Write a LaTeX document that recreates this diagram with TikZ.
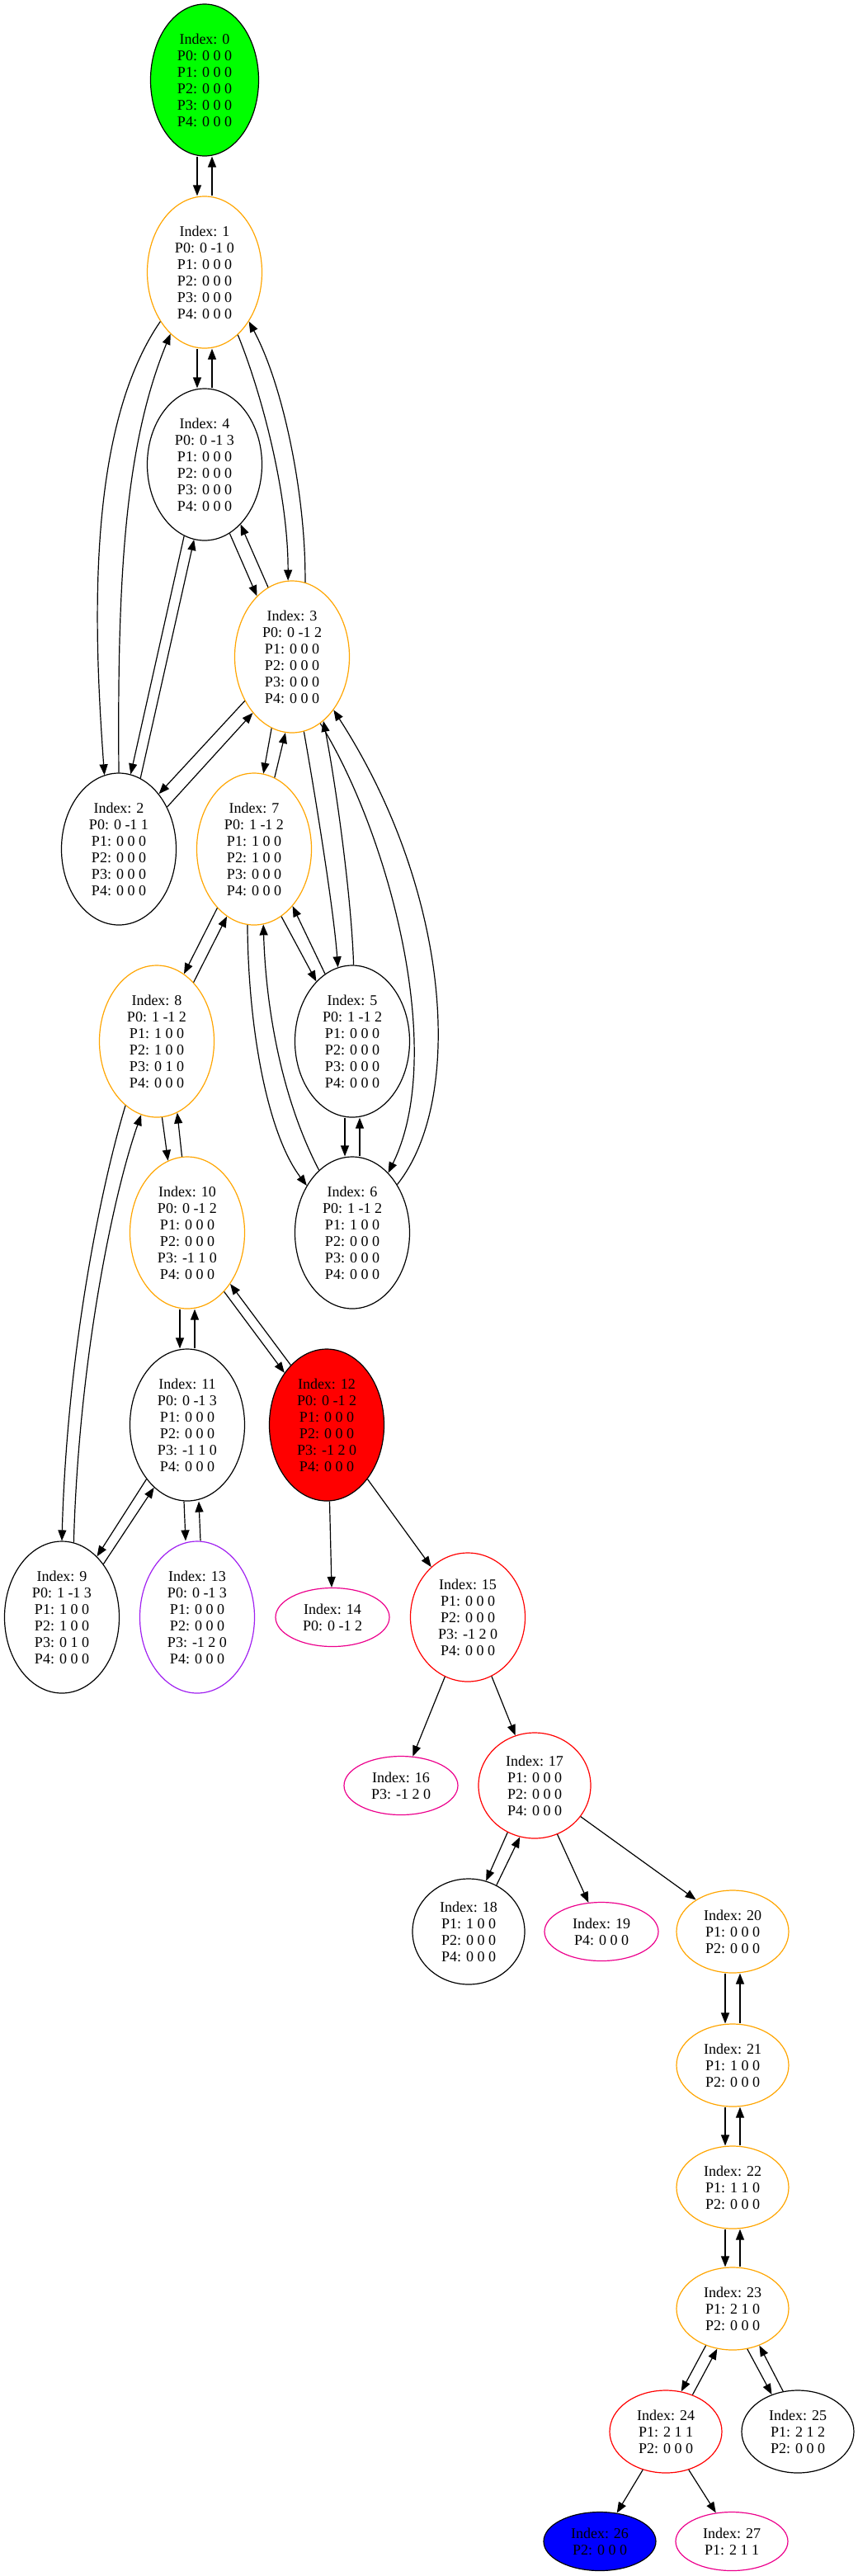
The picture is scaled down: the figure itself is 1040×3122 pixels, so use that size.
\documentclass[tikz,border=0pt]{standalone}
\usepackage{fontspec}
\setmainfont{Liberation Serif}
\usetikzlibrary{shapes.geometric,arrows.meta}
\definecolor{gvorange}{HTML}{FFA500}
\definecolor{gvpurple}{HTML}{A020F0}
\begin{document}
\begin{tikzpicture}[x=1pt,y=1pt,line width=1.2pt,>={Triangle[length=13pt,width=10pt]},
  st/.style={ellipse,draw,inner sep=0pt,align=center,font=\fontsize{18}{20}\selectfont},
  h6/.style={st,minimum width=139pt,minimum height=184pt},
  h5/.style={st,minimum width=139pt,minimum height=156pt},
  h4/.style={st,minimum width=136pt,minimum height=128pt},
  h3/.style={st,minimum width=136pt,minimum height=100pt},
  h2/.style={st,minimum width=138pt,minimum height=71pt}]
\useasboundingbox (0,0) rectangle (1040,-3122);
\node[h6,fill=green,minimum width=131pt] (s0) at (248,-97) {Index: 0\\P0: 0 0 0\\P1: 0 0 0\\P2: 0 0 0\\P3: 0 0 0\\P4: 0 0 0};
\node[h6,gvorange,text=black] (s1) at (248,-330) {Index: 1\\P0: 0 -1 0\\P1: 0 0 0\\P2: 0 0 0\\P3: 0 0 0\\P4: 0 0 0};
\node[h6] (s4) at (248,-563) {Index: 4\\P0: 0 -1 3\\P1: 0 0 0\\P2: 0 0 0\\P3: 0 0 0\\P4: 0 0 0};
\node[h6,gvorange,text=black] (s3) at (354,-796) {Index: 3\\P0: 0 -1 2\\P1: 0 0 0\\P2: 0 0 0\\P3: 0 0 0\\P4: 0 0 0};
\node[h6] (s2) at (144,-1029) {Index: 2\\P0: 0 -1 1\\P1: 0 0 0\\P2: 0 0 0\\P3: 0 0 0\\P4: 0 0 0};
\node[h6,gvorange,text=black] (s7) at (308,-1029) {Index: 7\\P0: 1 -1 2\\P1: 1 0 0\\P2: 1 0 0\\P3: 0 0 0\\P4: 0 0 0};
\node[h6,gvorange,text=black] (s8) at (190,-1262) {Index: 8\\P0: 1 -1 2\\P1: 1 0 0\\P2: 1 0 0\\P3: 0 1 0\\P4: 0 0 0};
\node[h6] (s5) at (427,-1262) {Index: 5\\P0: 1 -1 2\\P1: 0 0 0\\P2: 0 0 0\\P3: 0 0 0\\P4: 0 0 0};
\node[h6,gvorange,text=black] (s10) at (227,-1494) {Index: 10\\P0: 0 -1 2\\P1: 0 0 0\\P2: 0 0 0\\P3: -1 1 0\\P4: 0 0 0};
\node[h6] (s6) at (427,-1494) {Index: 6\\P0: 1 -1 2\\P1: 1 0 0\\P2: 0 0 0\\P3: 0 0 0\\P4: 0 0 0};
\node[h6] (s11) at (227,-1727) {Index: 11\\P0: 0 -1 3\\P1: 0 0 0\\P2: 0 0 0\\P3: -1 1 0\\P4: 0 0 0};
\node[h6,fill=red] (s12) at (396,-1727) {Index: 12\\P0: 0 -1 2\\P1: 0 0 0\\P2: 0 0 0\\P3: -1 2 0\\P4: 0 0 0};
\node[h6] (s9) at (75,-1960) {Index: 9\\P0: 1 -1 3\\P1: 1 0 0\\P2: 1 0 0\\P3: 0 1 0\\P4: 0 0 0};
\node[h6,gvpurple,text=black] (s13) at (239,-1960) {Index: 13\\P0: 0 -1 3\\P1: 0 0 0\\P2: 0 0 0\\P3: -1 2 0\\P4: 0 0 0};
\node[h2,magenta,text=black] (s14) at (403,-1960) {Index: 14\\P0: 0 -1 2};
\node[h5,red,text=black] (s15) at (567,-1960) {Index: 15\\P1: 0 0 0\\P2: 0 0 0\\P3: -1 2 0\\P4: 0 0 0};
\node[h2,magenta,text=black] (s16) at (486,-2164) {Index: 16\\P3: -1 2 0};
\node[h4,red,text=black] (s17) at (648,-2164) {Index: 17\\P1: 0 0 0\\P2: 0 0 0\\P4: 0 0 0};
\node[h4] (s18) at (568,-2341) {Index: 18\\P1: 1 0 0\\P2: 0 0 0\\P4: 0 0 0};
\node[h2,magenta,text=black] (s19) at (729,-2341) {Index: 19\\P4: 0 0 0};
\node[h3,gvorange,text=black] (s20) at (888,-2341) {Index: 20\\P1: 0 0 0\\P2: 0 0 0};
\node[h3,gvorange,text=black] (s21) at (888,-2503) {Index: 21\\P1: 1 0 0\\P2: 0 0 0};
\node[h3,gvorange,text=black] (s22) at (888,-2651) {Index: 22\\P1: 1 1 0\\P2: 0 0 0};
\node[h3,gvorange,text=black] (s23) at (888,-2798) {Index: 23\\P1: 2 1 0\\P2: 0 0 0};
\node[h3,red,text=black] (s24) at (807,-2947) {Index: 24\\P1: 2 1 1\\P2: 0 0 0};
\node[h3] (s25) at (967,-2947) {Index: 25\\P1: 2 1 2\\P2: 0 0 0};
\node[h2,fill=blue,minimum width=136pt] (s26) at (727,-3080) {Index: 26\\P2: 0 0 0};
\node[h2,magenta,text=black,minimum width=136pt] (s27) at (887,-3080) {Index: 27\\P1: 2 1 1};
\foreach \a/\b in {s0/s1,s1/s4,s5/s6,s10/s11,s20/s21,s21/s22,s22/s23} {
  \draw[->] ([xshift=-9pt]\a.south) -- ([xshift=-9pt]\b.north);
  \draw[->] ([xshift=9pt]\b.north) -- ([xshift=9pt]\a.south);
}
\foreach \a/\p/\b/\q in {s4/-70/s3/120.4, s3/109/s4/-59.8, s4/-106.6/s2/81.9, s2/73/s4/-98.7,
  s3/-137/s2/54.6, s2/41.9/s3/-125.5, s3/-106.8/s7/83.7, s7/74/s3/-95.6,
  s7/-122/s8/68.3, s8/58.9/s7/-112.5, s7/-68/s5/121.8, s5/112.3/s7/-56.7,
  s8/-86.3/s10/105.4, s10/94.4/s8/-74.6, s10/-58.4/s12/129.5, s12/121.3/s10/-50.5,
  s11/-127.7/s9/60.75, s9/52.7/s11/-118, s12/-53.7/s15/126,
  s15/-111.7/s16/68.2, s15/-68.3/s17/111.5, s17/-120.4/s18/71.6, s18/59.6/s17/-106.5,
  s17/-65/s19/114, s17/-34.9/s20/139.2, s23/-126.3/s24/69.8, s24/54.6/s23/-111.2,
  s23/-70.9/s25/125.4, s25/110.2/s23/-54.8, s24/-121.3/s26/59.5, s24/-59.6/s27/119.2}
  \draw[->] (\a.\p) -- (\b.\q);
\draw[->] ([xshift=-4pt]s11.south) -- ([xshift=-14pt]s13.north);
\draw[->] ([xshift=4pt]s13.north) -- ([xshift=14pt]s11.south);
\draw[->] ([xshift=3.5pt]s12.south) -- ([xshift=-1pt]s14.north);
\draw[->] (s1.-132.5) .. controls +(-90,-131) and +(-13,178) .. (s2.101.8);
\draw[->] (s2.90.6) .. controls +(-2,238) and +(-55,-134) .. (s1.-119.5);
\draw[->] (s1.-62.2) .. controls +(30,-74) and +(0,104) .. (s3.93.7);
\draw[->] (s3.80.7) .. controls +(1,104) and +(42,-78) .. (s1.-48.4);
\draw[->] (s3.-81.9) .. controls +(13,-73) and +(-5,70) .. (s5.101.7);
\draw[->] (s5.89) .. controls +(-3,90) and +(13,-65) .. (s3.-64.3);
\draw[->] (s3.-67.5) .. controls +(82,-132) and +(72,146) .. (s6.59.5);
\draw[->] (s6.47.5) .. controls +(83,104) and +(141,-218) .. (s3.-52.9);
\draw[->] (s7.-95.6) .. controls +(1,-129) and +(-47,62) .. (s6.134);
\draw[->] (s6.118.3) .. controls +(-46,88) and +(3,-100) .. (s7.-83.1);
\draw[->] (s8.-116.6) .. controls +(-33,-110) and +(6,218) .. (s9.90.6);
\draw[->] (s9.81.3) .. controls +(6,218) and +(-35,-100) .. (s8.-102.8);
\end{tikzpicture}
\end{document}
